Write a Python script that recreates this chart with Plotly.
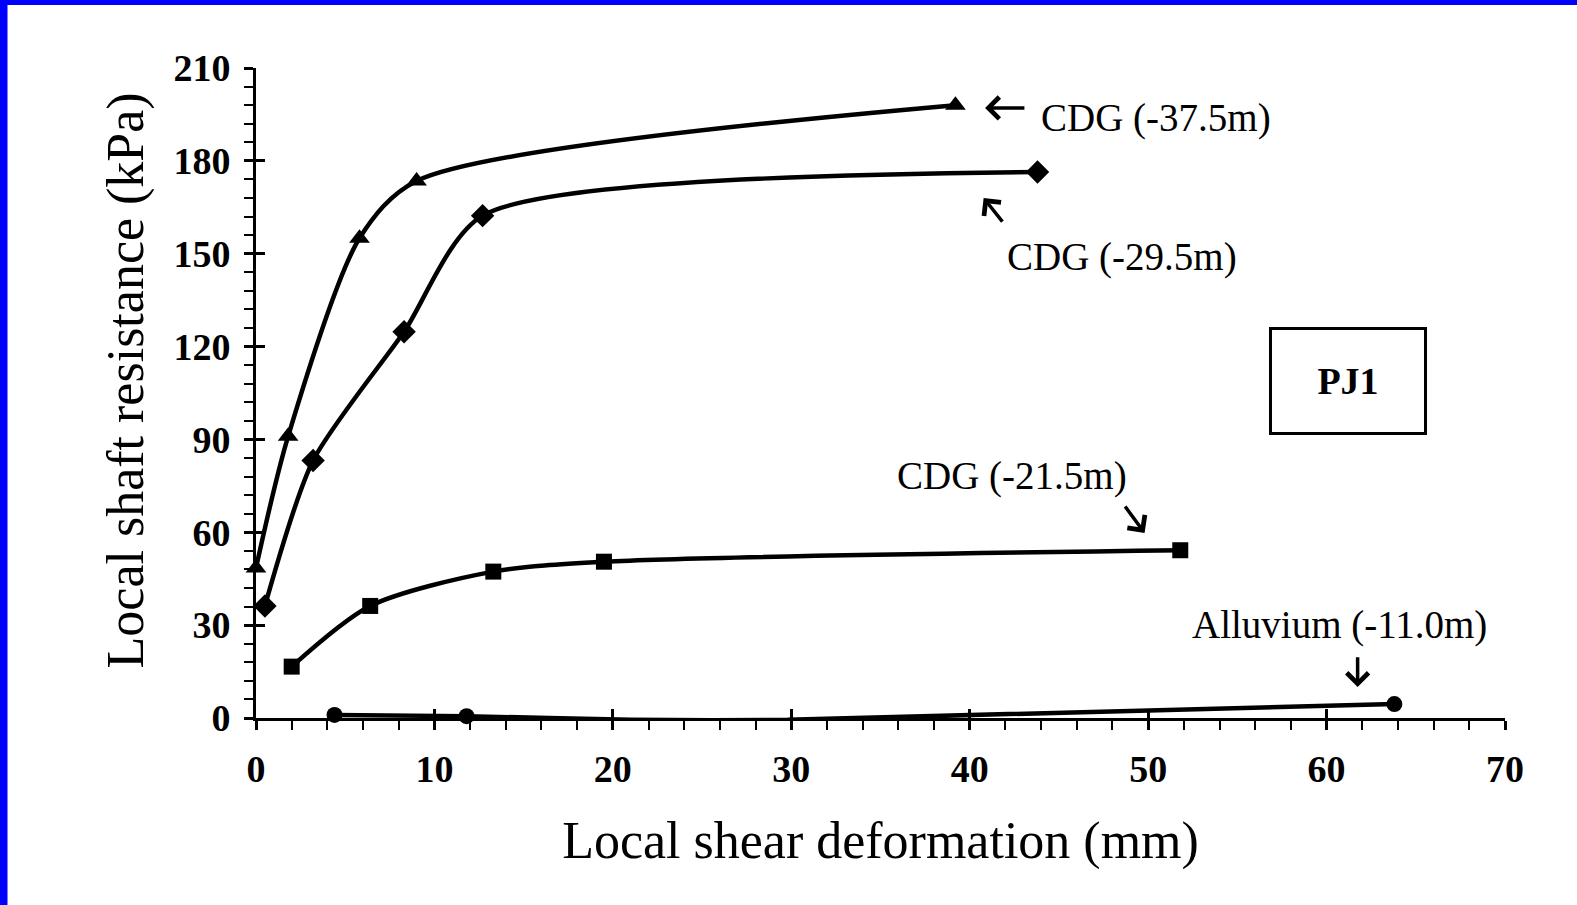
import plotly.graph_objects as go

# ---- data ----
tri_x = [0.0, 1.8, 5.8, 9.0, 39.2]
tri_y = [48.5, 91.0, 155.0, 173.5, 198.0]

dia_x = [0.5, 3.2, 8.3, 12.7, 43.8]
dia_y = [36.2, 83.2, 124.8, 162.3, 176.4]

sq_x = [2.0, 6.4, 13.3, 19.5, 51.8]
sq_y = [16.6, 36.2, 47.3, 50.5, 54.2]

cir_x = [4.4, 11.8, 21.0, 29.8, 63.8]
cir_y = [1.0, 0.6, -0.6, -0.6, 4.5]

x_ticks = [0, 10, 20, 30, 40, 50, 60, 70]
y_ticks = [0, 30, 60, 90, 120, 150, 180, 210]

FONT = "Liberation Serif"
W, H = 1577, 905
L, R, T, B = 256, 72, 68, 187

fig = go.Figure()

def add_series(x, y, symbol, size, smooth):
    fig.add_trace(go.Scatter(
        x=x, y=y, mode="lines+markers",
        line=dict(color="black", width=4.5, shape="spline", smoothing=smooth),
        marker=dict(symbol=symbol, size=size, color="black"),
        showlegend=False, hoverinfo="skip", cliponaxis=False))

add_series(tri_x, tri_y, "triangle-up", 18, 0.8)
add_series(dia_x, dia_y, "diamond", 18, 0.7)
add_series(sq_x, sq_y, "square", 16, 0.8)
add_series(cir_x, cir_y, "circle", 16, 0.5)

# invisible trace on overlay axes (for inside half of major ticks)
fig.add_trace(go.Scatter(x=[0], y=[0], xaxis="x2", yaxis="y2", mode="markers",
                         marker=dict(opacity=0), showlegend=False, hoverinfo="skip"))

axis_common = dict(showgrid=False, zeroline=False, showline=True,
                   linecolor="black", linewidth=3, tickcolor="black",
                   tickwidth=3, mirror=False)
tickfont = dict(family=FONT, size=38, color="black", weight="bold")

pw, ph = W - L - R, H - T - B

fig.update_layout(
    width=W, height=H,
    margin=dict(l=L, r=R, t=T, b=B, pad=0),
    paper_bgcolor="white", plot_bgcolor="white",
    font=dict(family=FONT, color="black"),
    xaxis=dict(range=[0, 70], tickvals=x_ticks, ticks="outside", ticklen=9,
               minor=dict(dtick=2, tick0=0, ticks="outside", ticklen=9,
                          tickcolor="black", tickwidth=2),
               tickfont=tickfont, ticklabelstandoff=6,
               title=dict(text="Local shear deformation (mm)",
                          font=dict(family=FONT, size=52, color="black"),
                          standoff=34),
               **axis_common),
    yaxis=dict(range=[0, 210], tickvals=y_ticks, ticks="outside", ticklen=9,
               minor=dict(dtick=6, tick0=0, ticks="outside", ticklen=9,
                          tickcolor="black", tickwidth=2),
               tickfont=tickfont, ticklabelstandoff=6,
               **axis_common),
    xaxis2=dict(overlaying="x", range=[0, 70], tickvals=x_ticks, ticks="inside",
                ticklen=9, showticklabels=False, showgrid=False, zeroline=False,
                showline=False, tickcolor="black", tickwidth=3, side="bottom",
                anchor="y2"),
    yaxis2=dict(overlaying="y", range=[0, 210], tickvals=y_ticks, ticks="inside",
                ticklen=9, showticklabels=False, showgrid=False, zeroline=False,
                showline=False, tickcolor="black", tickwidth=3, side="left",
                anchor="x2"),
)

# y-axis title as rotated text
fig.add_annotation(xref="paper", yref="paper", x=(125.7 - L) / pw, y=(718 - 380.7) / ph,
                   text="Local shaft resistance (kPa)", textangle=-90, showarrow=False,
                   xanchor="center", yanchor="middle",
                   font=dict(family=FONT, size=52, color="black"))

# blue frame on left and top edges of the image
fig.add_shape(type="rect", xref="paper", yref="paper",
              x0=-L / pw, x1=(7.5 - L) / pw, y0=-B / ph, y1=1 + T / ph,
              fillcolor="#0000ff", line=dict(width=0), layer="above")
fig.add_shape(type="rect", xref="paper", yref="paper",
              x0=-L / pw, x1=1 + R / pw, y0=1 + (T - 5) / ph, y1=1 + T / ph,
              fillcolor="#0000ff", line=dict(width=0), layer="above")

# labels
labels = [
    ("CDG (-37.5m)", 43.9, 194.0),
    ("CDG (-29.5m)", 42.0, 149.1),
    ("CDG (-21.5m)", 35.8, 78.3),
    ("Alluvium (-11.0m)", 52.35, 29.9),
]
for txt, x, y in labels:
    fig.add_annotation(x=x, y=y, text=txt, showarrow=False, xanchor="left",
                       yanchor="middle", font=dict(family=FONT, size=39, color="black"))

# arrows (head -> tail)
arrows = [
    ((40.86, 197.1), (43.15, 197.1)),
    ((40.78, 168.0), (41.9, 159.9)),
    ((49.8, 59.8), (48.65, 68.8)),
    ((61.74, 10.0), (61.74, 20.1)),
]
for (hx, hy), (tx, ty) in arrows:
    fig.add_annotation(x=hx, y=hy, ax=tx, ay=ty, xref="x", yref="y",
                       axref="x", ayref="y", text="", showarrow=True,
                       arrowhead=4, arrowsize=1.2, arrowwidth=3.5, arrowcolor="black")

# PJ1 box
fig.add_annotation(x=(1348 - L) / pw * 70, y=(718 - 380.5) / ph * 210, text="<b>PJ1</b>",
                   showarrow=False, font=dict(family=FONT, size=38, color="black"),
                   bordercolor="black", borderwidth=3, width=150, height=100,
                   align="center", valign="middle", bgcolor="white")

fig.write_html("out.html", config={"displayModeBar": False},
               post_script="document.body.style.margin='0px';")
